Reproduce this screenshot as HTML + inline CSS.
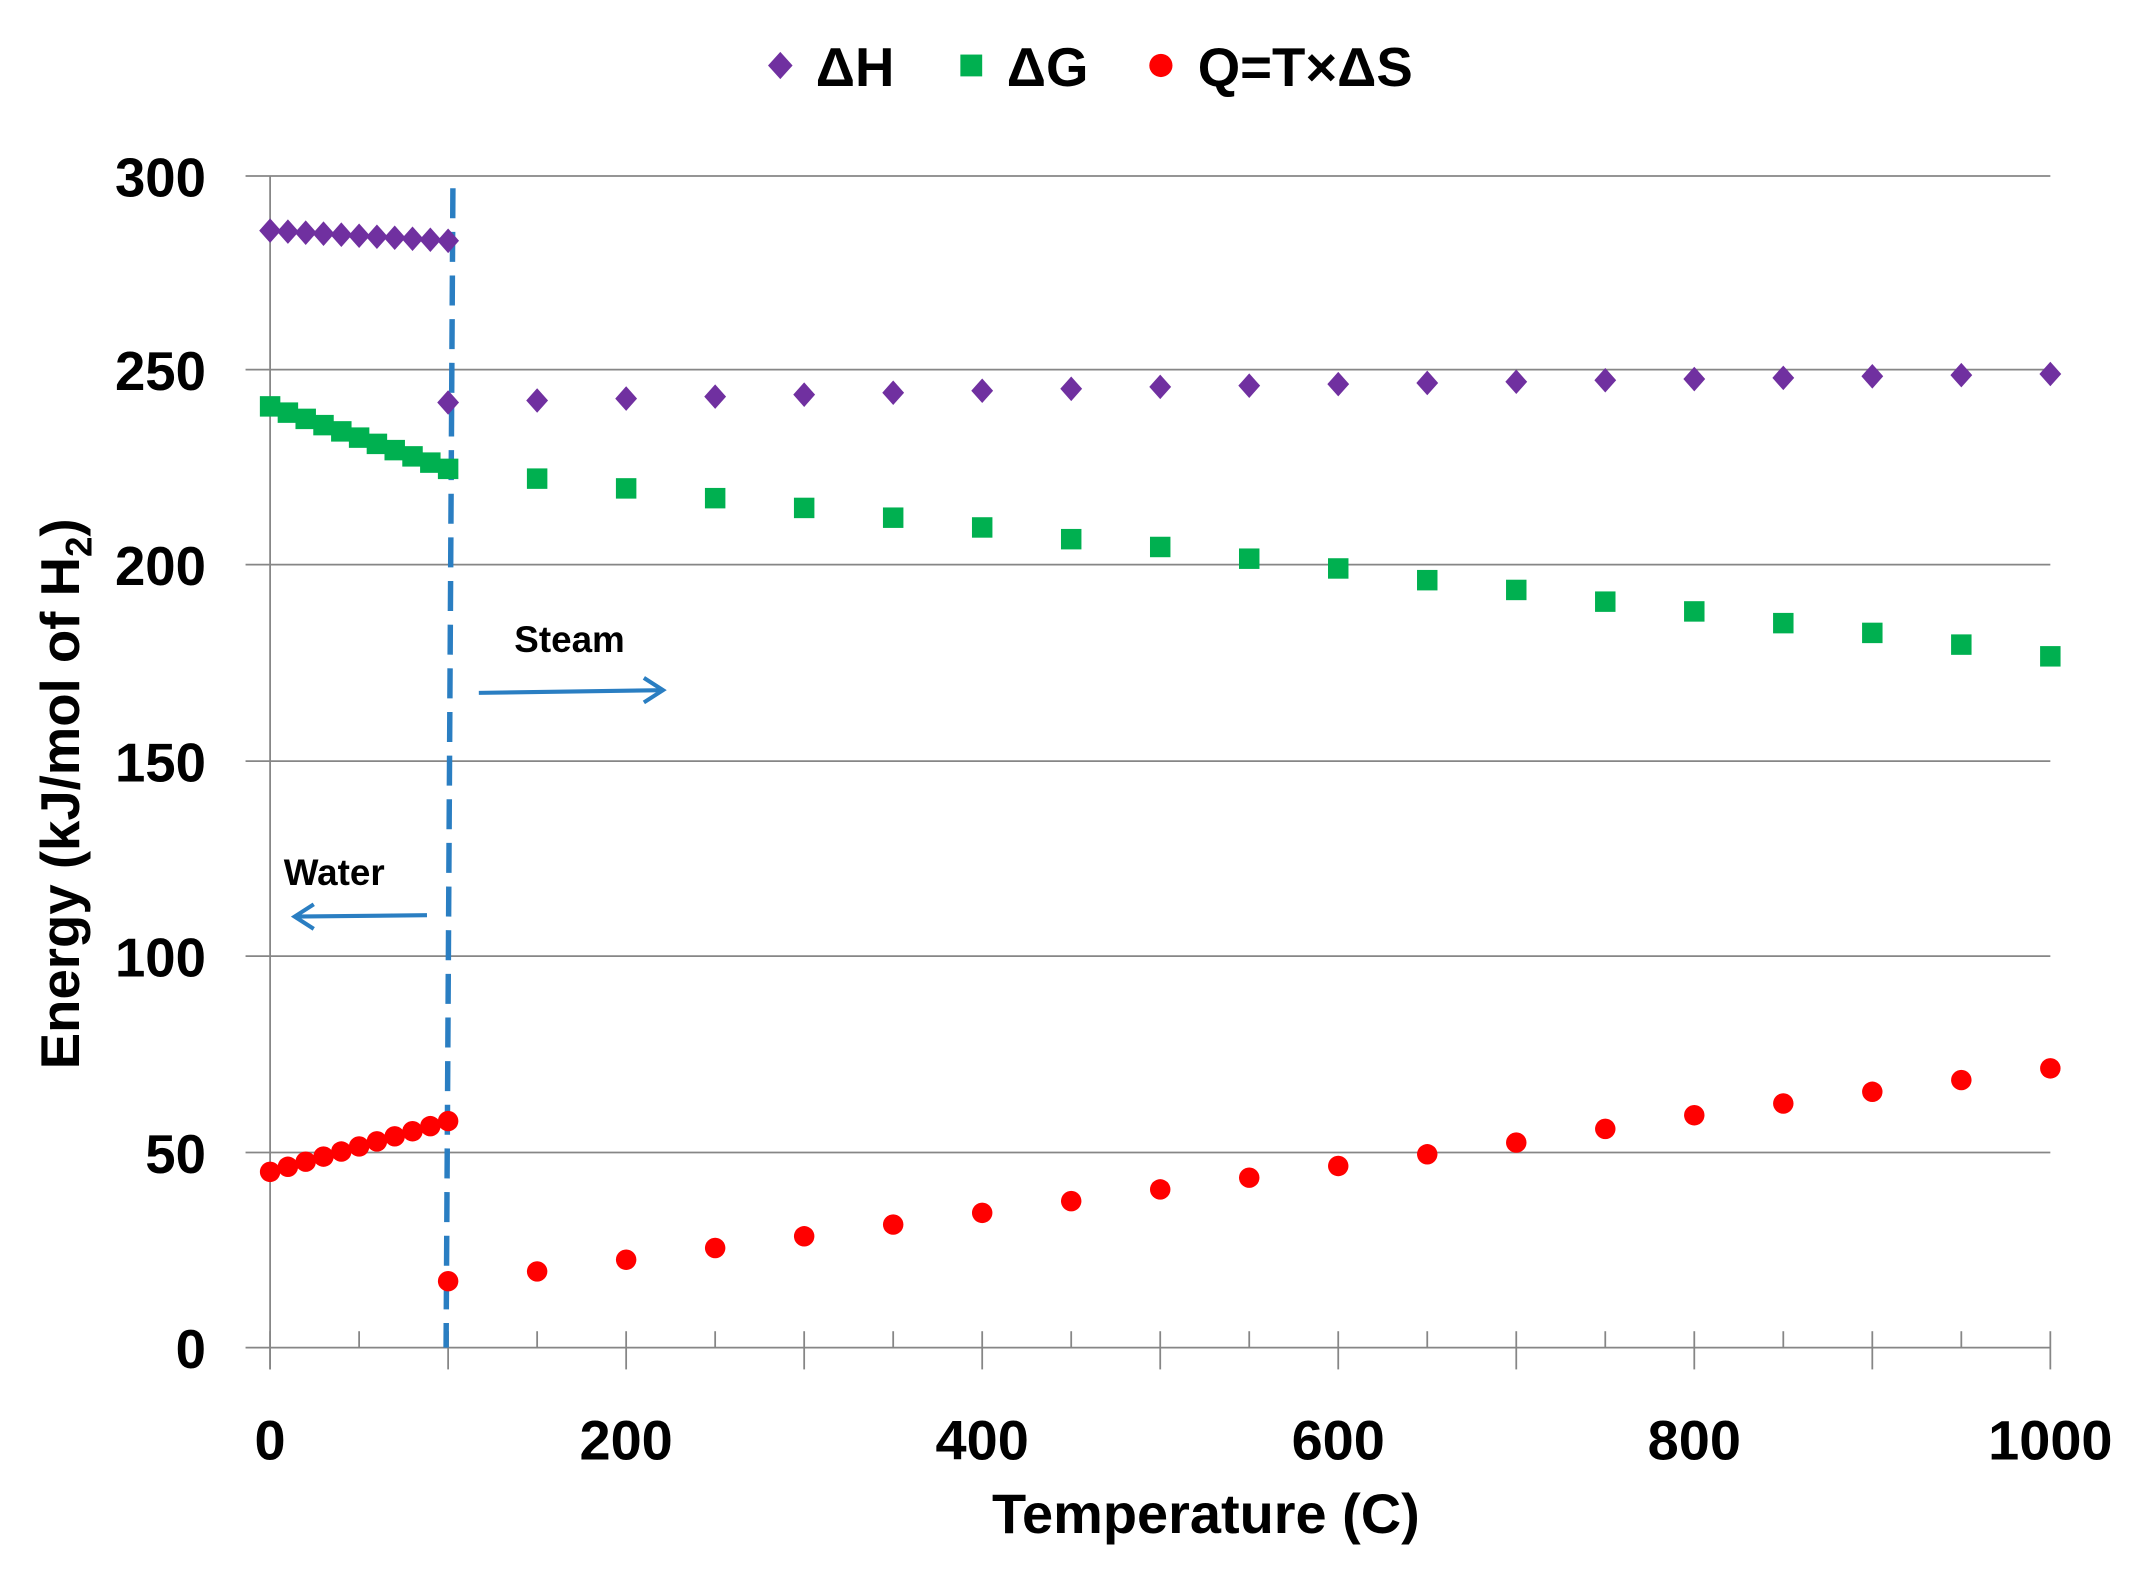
<!DOCTYPE html>
<html><head><meta charset="utf-8"><style>
html,body{margin:0;padding:0;background:#fff;}
svg{display:block;}
text{font-family:"Liberation Sans",sans-serif;font-weight:bold;fill:#000;}
</style></head><body>
<svg id="c" width="2139" height="1574" viewBox="0 0 1568 1154" preserveAspectRatio="none" xmlns="http://www.w3.org/2000/svg">
<g stroke="#868686" stroke-width="1.3">
<line x1="180" y1="129" x2="1503" y2="129"/>
<line x1="180" y1="271" x2="1503" y2="271"/>
<line x1="180" y1="414" x2="1503" y2="414"/>
<line x1="180" y1="558" x2="1503" y2="558"/>
<line x1="180" y1="701" x2="1503" y2="701"/>
<line x1="180" y1="845" x2="1503" y2="845"/>
<line x1="180" y1="988" x2="1503" y2="988"/>
<line x1="198" y1="129" x2="198" y2="1004"/>
</g>
<g id="ticks" stroke="#868686" stroke-width="1.3"></g>
<g font-size="40" text-anchor="end">
<text x="151" y="144">300</text><text x="151" y="286">250</text><text x="151" y="429">200</text>
<text x="151" y="573">150</text><text x="151" y="716">100</text><text x="151" y="860">50</text><text x="151" y="1003">0</text>
</g>
<g font-size="41" text-anchor="middle">
<text x="198" y="1070">0</text><text x="459" y="1070">200</text><text x="720" y="1070">400</text>
<text x="981" y="1070">600</text><text x="1242" y="1070">800</text><text x="1503" y="1070">1000</text>
</g>
<text x="884" y="1124" font-size="41" text-anchor="middle">Temperature (C)</text>
<text transform="translate(58,582) rotate(-90)" font-size="40" text-anchor="middle">Energy (kJ/mol of H<tspan font-size="27" dy="9">2</tspan><tspan dy="-9">)</tspan></text>
<g font-size="40">
<path d="M572,38 l9,10 l-9,10 l-9,-10z" fill="#7030a0"/>
<text x="598" y="63">ΔH</text>
<rect x="704" y="40" width="16" height="16" fill="#00b050"/>
<text x="738" y="63">ΔG</text>
<circle cx="851" cy="48" r="8.5" fill="#ff0000"/>
<text x="878" y="63">Q=T×ΔS</text>
</g>
<line x1="332" y1="138" x2="327" y2="988" stroke="#2a7ec2" stroke-width="4" stroke-dasharray="22,10"/>
<text x="377" y="478" font-size="27">Steam</text>
<g stroke="#2a7ec2" stroke-width="3" fill="none">
<line x1="351" y1="508" x2="486" y2="506"/><polyline points="472,497 486,506 472,515"/>
<line x1="313" y1="671" x2="216" y2="672"/><polyline points="230,663 216,672 230,681"/>
</g>
<text x="208" y="649" font-size="27">Water</text>
<g id="pts"></g>
</svg>
<script>
var X=function(t){return 198+t*1.305},Y=function(v){return 988-v*2.8633};
var s='',tk='';
for(var t=0;t<=1000;t+=50){tk+='<line x1="'+X(t)+'" y1="976" x2="'+X(t)+'" y2="'+(t%100==0?1004:988)+'"/>';}
document.getElementById('ticks').innerHTML=tk;
function dia(t,v){var x=X(t),y=Y(v);s+='<path d="M'+x+','+(y-9)+' l8,9 l-8,9 l-8,-9z" fill="#7030a0"/>';}
function sq(t,v){var x=X(t),y=Y(v);s+='<rect x="'+(x-7.5)+'" y="'+(y-7.5)+'" width="15" height="15" fill="#00b050"/>';}
function ci(t,v){s+='<circle cx="'+X(t)+'" cy="'+Y(v)+'" r="7.5" fill="#ff0000"/>';}
for(var i=0;i<=10;i++){var t=i*10;dia(t,286-2.6*i/10);sq(t,241-16*i/10);ci(t,45+13*i/10);}
var H=[242,242.5,243,243.5,244,244.5,245,245.5,246,246.3,246.7,247,247.3,247.7,248,248.3,248.7,249,249.3];
var G=[225,222.5,220,217.5,215,212.5,210,207,205,202,199.5,196.5,194,191,188.5,185.5,183,180,177];
var Q=[17,19.5,22.5,25.5,28.5,31.5,34.5,37.5,40.5,43.5,46.5,49.5,52.5,56,59.5,62.5,65.5,68.5,71.5];
for(var j=0;j<19;j++){var t=100+50*j;dia(t,H[j]);if(j>0)sq(t,G[j]);ci(t,Q[j]);}
document.getElementById('pts').innerHTML=s;
</script>
</body></html>
